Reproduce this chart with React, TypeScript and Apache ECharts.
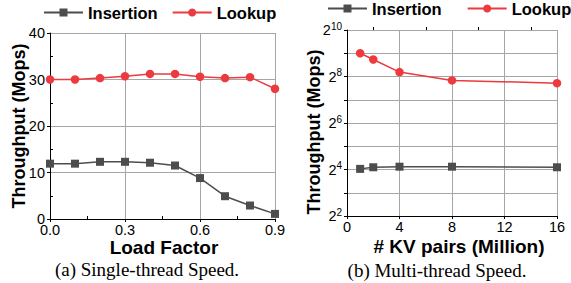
import React, { useEffect, useRef } from "react";
import * as echarts from "echarts";

const seriesNames = ["Insertion", "Lookup"];
const loadFactors = [0.0, 0.1, 0.2, 0.3, 0.4, 0.5, 0.6, 0.7, 0.8, 0.9];
const insertionLF = [11.9, 11.9, 12.3, 12.3, 12.1, 11.5, 8.8, 4.9, 2.9, 1.1];
const lookupLF = [30.0, 30.0, 30.3, 30.7, 31.2, 31.2, 30.6, 30.3, 30.5, 28.0];
const kvPairs = [1, 2, 4, 8, 16];
const insertionKV = [16.3, 17.1, 17.4, 17.4, 17.1];
const lookupKV = [512, 425, 292, 228, 210];

const titleLeftX = "Load Factor";
const titleRightX = "# KV pairs (Million)";
const titleY = "Throughput (Mops)";
const captionA = "(a) Single-thread Speed.";
const captionB = "(b) Multi-thread Speed.";

const GRAY = "#4d4d4d";
const RED = "#ec3a3e";
const GRID = "#a6a6a6";
const SANS = "Arial, 'Liberation Sans', sans-serif";
const SERIF = "'Liberation Serif', 'Times New Roman', serif";

export default function App() {
  const ref = useRef<HTMLDivElement>(null);
  useEffect(() => {
    document.body.style.margin = "0";
    const chart = echarts.init(ref.current!, null, { renderer: "svg" });
    const tickLabel = { color: "#000", fontFamily: SANS, fontSize: 14.5 };
    const minorAxis = (extra: any) => ({
      ...extra,
      axisLine: { show: false },
      axisLabel: { show: false },
      splitLine: { show: false },
      axisTick: { show: false },
      minorTick: { show: true, splitNumber: 2, length: 3, lineStyle: { color: "#000" } },
    });
    const legendBase = {
      orient: "horizontal",
      itemWidth: 39,
      itemHeight: 10,
      padding: 0,
      width: 250,
      textStyle: { fontFamily: SANS, fontSize: 16.5, fontWeight: "bold", color: "#000" },
      data: seriesNames,
    };
    const option: any = {
      animation: false,
      legend: [
        { ...legendBase, left: 43, top: 4, itemGap: 14 },
        { ...legendBase, left: 327, top: 0, itemGap: 25 },
      ],
      grid: [
        { left: 50, top: 33, width: 225, height: 186 },
        { left: 347, top: 30, width: 210, height: 186 },
      ],
      xAxis: [
        {
          type: "value", gridIndex: 0, min: 0, max: 0.9, interval: 0.3,
          axisLine: { lineStyle: { color: "#000", width: 1 } },
          axisTick: { show: true, length: 3, lineStyle: { color: "#000" } },
          axisLabel: { ...tickLabel, margin: 3, formatter: (v: number) => v.toFixed(1) },
          splitLine: { show: true, lineStyle: { color: GRID, width: 1 } },
        },
        minorAxis({ type: "value", gridIndex: 0, min: 0, max: 0.9, interval: 0.3 }),
        {
          type: "value", gridIndex: 1, min: 0, max: 16, interval: 4,
          axisLine: { lineStyle: { color: "#000", width: 1 } },
          axisTick: { show: true, length: 3, lineStyle: { color: "#000" } },
          axisLabel: { ...tickLabel, margin: 3 },
          splitLine: { show: true, lineStyle: { color: GRID, width: 1 } },
        },
        minorAxis({ type: "value", gridIndex: 1, min: 0, max: 16, interval: 4 }),
      ],
      yAxis: [
        {
          type: "value", gridIndex: 0, min: 0, max: 40, interval: 10,
          axisLine: { show: true, lineStyle: { color: "#000", width: 1 } },
          axisTick: { show: true, length: 3, lineStyle: { color: "#000" } },
          axisLabel: { ...tickLabel, margin: 5 },
          splitLine: { show: true, lineStyle: { color: GRID, width: 1 } },
        },
        minorAxis({ type: "value", gridIndex: 0, min: 0, max: 40, interval: 10 }),
        {
          type: "log", logBase: 2, gridIndex: 1, min: 4, max: 1024, interval: 1,
          axisLine: { show: true, lineStyle: { color: "#000", width: 1 } },
          axisTick: { show: true, length: 3, lineStyle: { color: "#000" } },
          axisLabel: {
            ...tickLabel,
            margin: 5,
            formatter: (v: number) => {
              const e = Math.round(Math.log2(v));
              return e % 2 === 0 ? `2{s|${e}}` : "";
            },
            rich: { s: { fontFamily: SANS, fontSize: 10, color: "#000", padding: [0, 0, 8, 0] } },
          },
          splitLine: { show: true, lineStyle: { color: GRID, width: 1 } },
        },
      ],
      series: [
        {
          name: "Insertion", type: "line", xAxisIndex: 0, yAxisIndex: 0, clip: false,
          data: loadFactors.map((x, i) => [x, insertionLF[i]]),
          symbol: "rect", symbolSize: 8,
          lineStyle: { color: GRAY, width: 1.5 }, itemStyle: { color: GRAY },
        },
        {
          name: "Lookup", type: "line", xAxisIndex: 0, yAxisIndex: 0, clip: false,
          data: loadFactors.map((x, i) => [x, lookupLF[i]]),
          symbol: "circle", symbolSize: 8.5,
          lineStyle: { color: RED, width: 1.5 }, itemStyle: { color: RED },
        },
        {
          name: "Insertion", type: "line", xAxisIndex: 2, yAxisIndex: 2, clip: false,
          data: kvPairs.map((x, i) => [x, insertionKV[i]]),
          symbol: "rect", symbolSize: 8,
          lineStyle: { color: GRAY, width: 1.5 }, itemStyle: { color: GRAY },
        },
        {
          name: "Lookup", type: "line", xAxisIndex: 2, yAxisIndex: 2, clip: false,
          data: kvPairs.map((x, i) => [x, lookupKV[i]]),
          symbol: "circle", symbolSize: 8.5,
          lineStyle: { color: RED, width: 1.5 }, itemStyle: { color: RED },
        },
      ],
      graphic: [
        { type: "text", x: 164, y: 247, style: { text: titleLeftX, fontFamily: SANS, fontSize: 19, fontWeight: "bold", fill: "#000", align: "center", verticalAlign: "middle" } },
        { type: "text", x: 459, y: 246, style: { text: titleRightX, fontFamily: SANS, fontSize: 19, fontWeight: "bold", fill: "#000", align: "center", verticalAlign: "middle" } },
        { type: "text", x: 19, y: 126, rotation: Math.PI / 2, style: { text: titleY, fontFamily: SANS, fontSize: 18, fontWeight: "bold", fill: "#000", align: "center", verticalAlign: "middle" } },
        { type: "text", x: 314, y: 132, rotation: Math.PI / 2, style: { text: titleY, fontFamily: SANS, fontSize: 18, fontWeight: "bold", fill: "#000", align: "center", verticalAlign: "middle" } },
        { type: "text", x: 147, y: 269, style: { text: captionA, fontFamily: SERIF, fontSize: 19, fill: "#000", align: "center", verticalAlign: "middle" } },
        { type: "text", x: 437, y: 270, style: { text: captionB, fontFamily: SERIF, fontSize: 19, fill: "#000", align: "center", verticalAlign: "middle" } },
      ],
    };
    chart.setOption(option);
    return () => chart.dispose();
  }, []);
  return <div ref={ref} style={{ width: 571, height: 283 }} />;
}
